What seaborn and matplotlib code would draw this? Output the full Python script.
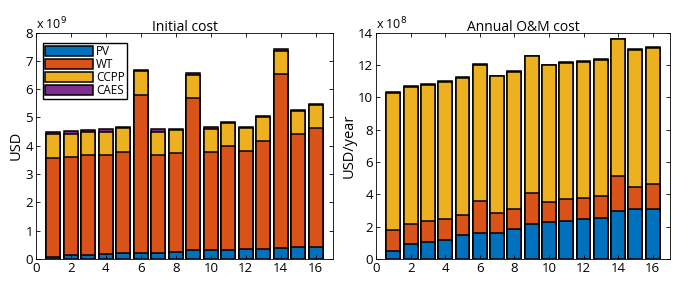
import numpy as np
import pandas as pd
import matplotlib
matplotlib.use("Agg")
import matplotlib.pyplot as plt
import seaborn as sns

cases = list(range(1, 17))
techs = ["PV", "WT", "CCPP", "CAES"]
colors = ["#0072BD", "#D95319", "#EDB120", "#7E2F8E"]

# Initial cost, x 1e9 USD (cumulative tops)
init_pv = [0.07, 0.13, 0.14, 0.17, 0.20, 0.22, 0.21, 0.25, 0.30, 0.31, 0.33, 0.34, 0.35, 0.40, 0.41, 0.41]
init_wt_top = [3.56, 3.60, 3.67, 3.67, 3.78, 5.79, 3.66, 3.74, 5.69, 3.78, 3.99, 3.80, 4.18, 6.54, 4.41, 4.63]
init_ccpp_top = [4.41, 4.41, 4.47, 4.47, 4.63, 6.63, 4.48, 4.57, 6.49, 4.59, 4.80, 4.63, 5.01, 7.34, 5.24, 5.45]
init_caes_top = [4.48, 4.52, 4.55, 4.59, 4.68, 6.69, 4.58, 4.60, 6.56, 4.66, 4.84, 4.68, 5.05, 7.42, 5.27, 5.49]

# Annual O&M cost, x 1e8 USD/year
om_pv = [0.52, 0.91, 1.04, 1.20, 1.48, 1.60, 1.60, 1.85, 2.18, 2.29, 2.37, 2.47, 2.52, 2.97, 3.08, 3.10]
om_wt_top = [1.79, 2.14, 2.33, 2.47, 2.74, 3.60, 2.85, 3.10, 4.10, 3.53, 3.68, 3.74, 3.89, 5.16, 4.47, 4.66]
om_ccpp_top = [10.25, 10.65, 10.78, 10.95, 11.22, 12.00, 11.31, 11.57, 12.53, 11.97, 12.13, 12.19, 12.32, 13.57, 12.94, 13.05]
om_caes_top = [10.30, 10.69, 10.81, 10.98, 11.25, 12.05, 11.34, 11.60, 12.56, 12.00, 12.19, 12.22, 12.35, 13.60, 12.97, 13.08]

plt.rcParams["font.family"] = ["Open Sans", "DejaVu Sans"]
plt.rcParams["font.size"] = 9

fig = plt.figure(figsize=(6.9, 2.83), dpi=100)
ax1 = fig.add_axes([0.052, 0.085, 0.431, 0.80])
ax2 = fig.add_axes([0.545, 0.085, 0.426, 0.80])


def stacked(ax, layers, ymax, ylabel, title, exp):
    # draw cumulative tops from largest to smallest so they overlay as a stack
    for name, vals, col in reversed(list(zip(techs, layers, colors))):
        df = pd.DataFrame({"case": cases, "val": vals})
        sns.barplot(data=df, x="case", y="val", native_scale=True, color=col,
                    width=0.8, edgecolor="black", linewidth=1.1, saturation=1,
                    ax=ax, label=name)
    ax.set_xlim(0, 17)
    ax.set_ylim(0, ymax)
    ax.set_xticks(range(0, 17, 2))
    step = 1 if ymax <= 8 else 2
    ax.set_yticks(np.arange(0, ymax + 0.1, step))
    ax.set_yticklabels([str(int(v)) for v in np.arange(0, ymax + 0.1, step)])
    ax.tick_params(direction="in", top=True, right=True, length=3, width=0.6,
                   labelsize=9.5, pad=2)
    for s in ax.spines.values():
        s.set_linewidth(0.6)
    ax.set_xlabel("")
    ax.set_ylabel(ylabel, fontsize=10.5, labelpad=1)
    ax.set_title(title, fontsize=10, pad=1)
    ax.text(0.0, 1.0, r"x 10$^{%d}$" % exp, transform=ax.transAxes,
            ha="left", va="bottom", fontsize=9)


stacked(ax1, [init_pv, init_wt_top, init_ccpp_top, init_caes_top], 8, "USD", "Initial cost", 9)
stacked(ax2, [om_pv, om_wt_top, om_ccpp_top, om_caes_top], 14, "USD/year", "Annual O&M cost", 8)

handles, labels = ax1.get_legend_handles_labels()
order = [labels.index(t) for t in techs]
ax1.legend([handles[i] for i in order], techs, loc="upper left",
           bbox_to_anchor=(0.024, 0.955), fancybox=False, edgecolor="black",
           framealpha=1, handlelength=4.0, handleheight=0.9, labelspacing=0.0,
           borderpad=0.2, handletextpad=0.3, fontsize=8.5, borderaxespad=0.0)
if ax2.get_legend() is not None:
    ax2.get_legend().remove()

fig.savefig("out.png", dpi=100)
